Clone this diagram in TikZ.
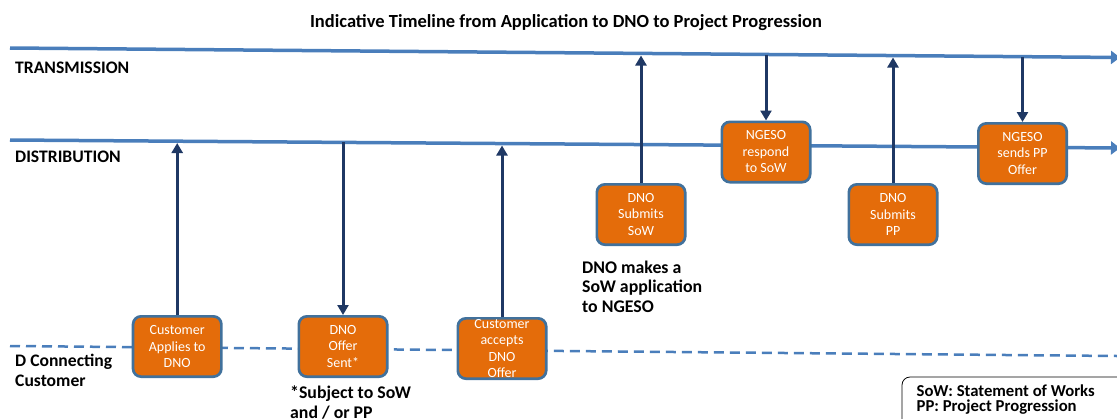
\documentclass[tikz,border=0pt]{standalone}
\usepackage{fontspec}
\setmainfont{Carlito}
\usetikzlibrary{arrows.meta}
\definecolor{tl}{HTML}{4A7EBB}
\definecolor{org}{HTML}{E46C0A}
\definecolor{bord}{HTML}{41719C}
\definecolor{navy}{HTML}{1F3864}
\begin{document}
\begin{tikzpicture}[x=1pt,y=-1pt,
  timeline/.style={tl, line width=3.5pt, -{Triangle[width=13pt,length=9pt]}},
  dline/.style={tl, line width=2.5pt, dash pattern=on 10pt off 6pt},
  stepbox/.style={draw=bord, fill=org, line width=2.7pt, rounded corners=8pt,
    minimum width=88.3pt, minimum height=60.3pt, inner sep=0pt},
  boxtext/.style={align=center, text=white, inner sep=0pt,
    font=\fontsize{14}{16.5}\selectfont},
  arr/.style={navy, line width=3pt, -{Triangle[width=11pt,length=10pt]}},
  lane/.style={font=\bfseries\fontsize{17.6}{20}\selectfont, anchor=base west,
    inner sep=0pt, align=left},
  note/.style={font=\bfseries\fontsize{17.8}{19.7}\selectfont, anchor=base west,
    inner sep=0pt, align=left},
  ]
\useasboundingbox (0,0) rectangle (1117,418);
% title
\node[font=\bfseries\fontsize{18.5}{21}\selectfont, anchor=base, inner sep=0pt] (title) at (566,27.5)
  {Indicative Timeline from Application to DNO to Project Progression};
% timelines
\coordinate (T0) at (10,48);  \coordinate (T1) at (1120,57.5);
\coordinate (D0) at (10,140); \coordinate (D1) at (1120,148);
\coordinate (C0) at (10,346); \coordinate (C1) at (1117,356);
\draw[timeline] (T0) -- (T1);
\draw[timeline] (D0) -- (D1);
\draw[dline] (C0) -- (C1);
% lane labels (base = last line)
\node[lane] (ltrans) at (15,73.5) {TRANSMISSION};
\node[lane] (ldist) at (15,162) {DISTRIBUTION};
\node[lane] (lcust) at (15,386) {D Connecting\\Customer};
% boxes
\node[stepbox] (b1) at (177.2,346.5) {};
\node[stepbox] (b2) at (343,346.5) {};
\node[stepbox] (b3) at (502,348.5) {};
\node[stepbox] (b4) at (641,214.5) {};
\node[stepbox] (b5) at (766,152) {};
\node[stepbox] (b6) at (893,214.5) {};
\node[stepbox] (b7) at (1022.5,153.5) {};
\node[boxtext] (t1) at (b1) {Customer\\Applies to\\DNO};
\node[boxtext] (t2) at (b2) {DNO\\Offer\\Sent*};
\node[boxtext] (t3) at (b3) {Customer\\accepts\\DNO\\Offer};
\node[boxtext] (t4) at (b4) {DNO\\Submits\\SoW};
\node[boxtext] (t5) at (b5) {NGESO\\respond\\to SoW};
\node[boxtext] (t6) at (b6) {DNO\\Submits\\PP};
\node[boxtext] (t7) at (b7) {NGESO\\sends PP\\Offer};
% line points
\coordinate (p1) at (177.2,143);
\coordinate (p2) at (343,142);
\coordinate (p3) at (502,145.5);
\coordinate (p4) at (641,55.5);
\coordinate (p5) at (766,54.5);
\coordinate (p6) at (893,57.5);
\coordinate (p7) at (1022.5,56.7);
% arrows
\draw[arr] (b1.north) -- (p1);
\draw[arr] (p2) -- (b2.north);
\draw[arr] (b3.north) -- (p3);
\draw[arr] (b4.north) -- (p4);
\draw[arr] (p5) -- (b5.north);
\draw[arr] (b6.north) -- (p6);
\draw[arr] (p7) -- (b7.north);
% notes (base = last line)
\node[note] (n1) at (290,418.4) {*Subject to SoW\\and / or PP};
\node[note] (n2) at (582,312.5) {DNO makes a\\SoW application\\to NGESO};
% legend
\draw[black, line width=0.8pt, rounded corners=8pt] (902,377) rectangle (1150,440);
\node[font=\bfseries\fontsize{16.7}{15.8}\selectfont, anchor=base west, inner sep=0pt, align=left] (leg) at (916.5,411.8)
  {SoW: Statement of Works\\PP: Project Progression};
\end{tikzpicture}
\end{document}
